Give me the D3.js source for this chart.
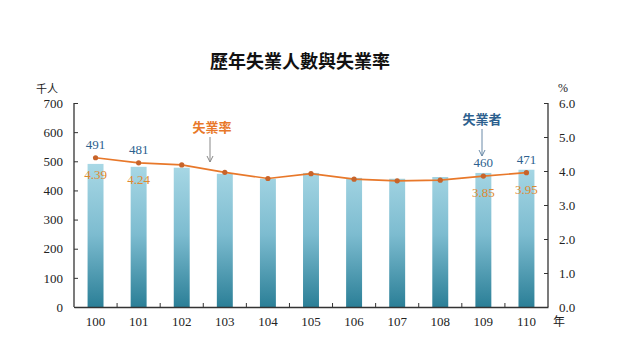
<!DOCTYPE html>
<html>
<head>
<meta charset="utf-8">
<script src="https://cdn.jsdelivr.net/npm/d3@7"></script>
<style>
body { margin: 0; background: #fff; }
text { font-family: "Liberation Serif", "DejaVu Serif", serif; }
.cjk { font-family: "Noto Sans CJK TC", sans-serif; }
</style>
</head>
<body>
<svg id="chart" width="640" height="360"></svg>
<script>
var years = ["100", "101", "102", "103", "104", "105", "106", "107", "108", "109", "110"];
var unemployed = [491, 481, 478, 457, 440, 460, 443, 440, 446, 460, 471];
var rates = [4.39, 4.24, 4.18, 3.96, 3.78, 3.92, 3.76, 3.71, 3.73, 3.85, 3.95];
var labelled = ["100", "101", "109", "110"];
var leftTicks = [0, 100, 200, 300, 400, 500, 600, 700];
var rightTicks = [0, 1, 2, 3, 4, 5, 6];

var svg = d3.select("#chart");
// note: "top" is taken by window.top, so plot edges get their own names
var plotLeft = 74, plotRight = 548, plotTop = 103, plotBottom = 307;
var orange = "#e8782a", blue = "#2d5f8e";

var x = d3.scaleBand().domain(years).range([plotLeft, plotRight]).paddingInner(0.63).paddingOuter(0.315);
var xb = d3.scaleBand().domain(years).range([plotLeft, plotRight]);
var y = d3.scaleLinear().domain([0, 700]).range([plotBottom, plotTop]);
var yr = d3.scaleLinear().domain([0, 6]).range([plotBottom, plotTop]);

// gradient for the bars
var defs = svg.append("defs");
var grad = defs.append("linearGradient").attr("id", "barGrad")
	.attr("gradientUnits", "userSpaceOnUse")
	.attr("x1", 0).attr("x2", 0).attr("y1", plotBottom).attr("y2", y(500));
grad.append("stop").attr("offset", "0%").attr("stop-color", "#2b7f97");
grad.append("stop").attr("offset", "50%").attr("stop-color", "#7dbcd0");
grad.append("stop").attr("offset", "100%").attr("stop-color", "#aad9e6");

// title
svg.append("text").attr("class", "cjk")
	.attr("x", 300).attr("y", 68).attr("text-anchor", "middle")
	.attr("font-size", 18).attr("font-weight", "bold").attr("fill", "#111")
	.text("歷年失業人數與失業率");

// bars
svg.selectAll(".bar").data(years).enter().append("rect")
	.attr("x", function(d) { return x(d); })
	.attr("width", x.bandwidth())
	.attr("y", function(d, i) { return y(unemployed[i]); })
	.attr("height", function(d, i) { return plotBottom - y(unemployed[i]); })
	.attr("fill", "url(#barGrad)");

// axes
var axL = d3.axisLeft(y).tickValues(leftTicks).tickSize(-4).tickPadding(11);
var gL = svg.append("g").attr("transform", "translate(" + plotLeft + ",0)").call(axL);
var axR = d3.axisRight(yr).tickValues(rightTicks).tickSize(-4).tickPadding(11)
	.tickFormat(d3.format(".1f"));
var gR = svg.append("g").attr("transform", "translate(" + plotRight + ",0)").call(axR);
var axB = d3.axisBottom(x).tickSize(0).tickPadding(10);
var gB = svg.append("g").attr("transform", "translate(0," + plotBottom + ")").call(axB);

[gL, gR, gB].forEach(function(g) {
	g.select(".domain").attr("stroke", "#333").attr("stroke-width", 1.3);
	g.selectAll(".tick line").attr("stroke", "#333");
	g.selectAll("text").attr("font-family", "Liberation Serif").attr("font-size", 13).attr("fill", "#222");
});
gL.select(".domain").attr("d", "M0," + plotTop + "V" + plotBottom);
gR.select(".domain").attr("d", "M0," + plotTop + "V" + plotBottom);

// bottom ticks between the bars
svg.selectAll(".xtick").data(years.slice(1)).enter().append("line")
	.attr("x1", function(d) { return xb(d); }).attr("x2", function(d) { return xb(d); })
	.attr("y1", plotBottom).attr("y2", plotBottom - 4).attr("stroke", "#333");

// unit labels
svg.append("text").attr("class", "cjk").attr("x", 47).attr("y", 93)
	.attr("text-anchor", "middle").attr("font-size", 11).attr("fill", "#222").text("千人");
svg.append("text").attr("x", 563).attr("y", 92)
	.attr("text-anchor", "middle").attr("font-size", 12).attr("fill", "#222").text("%");
svg.append("text").attr("class", "cjk").attr("x", 553).attr("y", 326)
	.attr("font-size", 12).attr("fill", "#222").text("年");

// rate line
var line = d3.line()
	.x(function(d, i) { return x(years[i]) + x.bandwidth() / 2; })
	.y(function(d) { return yr(d); });
svg.append("path").datum(rates).attr("d", line)
	.attr("fill", "none").attr("stroke", orange).attr("stroke-width", 1.7);
svg.selectAll(".dot").data(rates).enter().append("circle")
	.attr("cx", function(d, i) { return x(years[i]) + x.bandwidth() / 2; })
	.attr("cy", function(d) { return yr(d); })
	.attr("r", 2.6).attr("fill", "#c8642a");

// value labels
years.forEach(function(yv, i) {
	if (labelled.indexOf(yv) < 0) return;
	var cx = x(yv) + x.bandwidth() / 2;
	svg.append("text").attr("x", cx).attr("y", yr(rates[i]) - 9)
		.attr("text-anchor", "middle").attr("font-size", 13).attr("fill", blue)
		.text(unemployed[i]);
	svg.append("text").attr("x", cx).attr("y", yr(rates[i]) + 21)
		.attr("text-anchor", "middle").attr("font-size", 13).attr("fill", "#e0892f")
		.text(rates[i].toFixed(2));
});

// annotations
function arrow(xp, y1, y2, color) {
	svg.append("line").attr("x1", xp).attr("x2", xp).attr("y1", y1).attr("y2", y2)
		.attr("stroke", color).attr("stroke-width", 1);
	svg.append("path").attr("d", "M" + (xp - 3) + "," + (y2 - 6) + "L" + xp + "," + y2 + "L" + (xp + 3) + "," + (y2 - 6))
		.attr("fill", "none").attr("stroke", color).attr("stroke-width", 1);
}
svg.append("text").attr("class", "cjk").attr("x", 212).attr("y", 132)
	.attr("text-anchor", "middle").attr("font-size", 13).attr("font-weight", "bold")
	.attr("fill", orange).text("失業率");
arrow(210, 137, 162, "#888");
svg.append("text").attr("class", "cjk").attr("x", 482).attr("y", 124)
	.attr("text-anchor", "middle").attr("font-size", 13).attr("font-weight", "bold")
	.attr("fill", blue).text("失業者");
arrow(482, 129, 156, "#6a8aa8");
</script>
</body>
</html>
